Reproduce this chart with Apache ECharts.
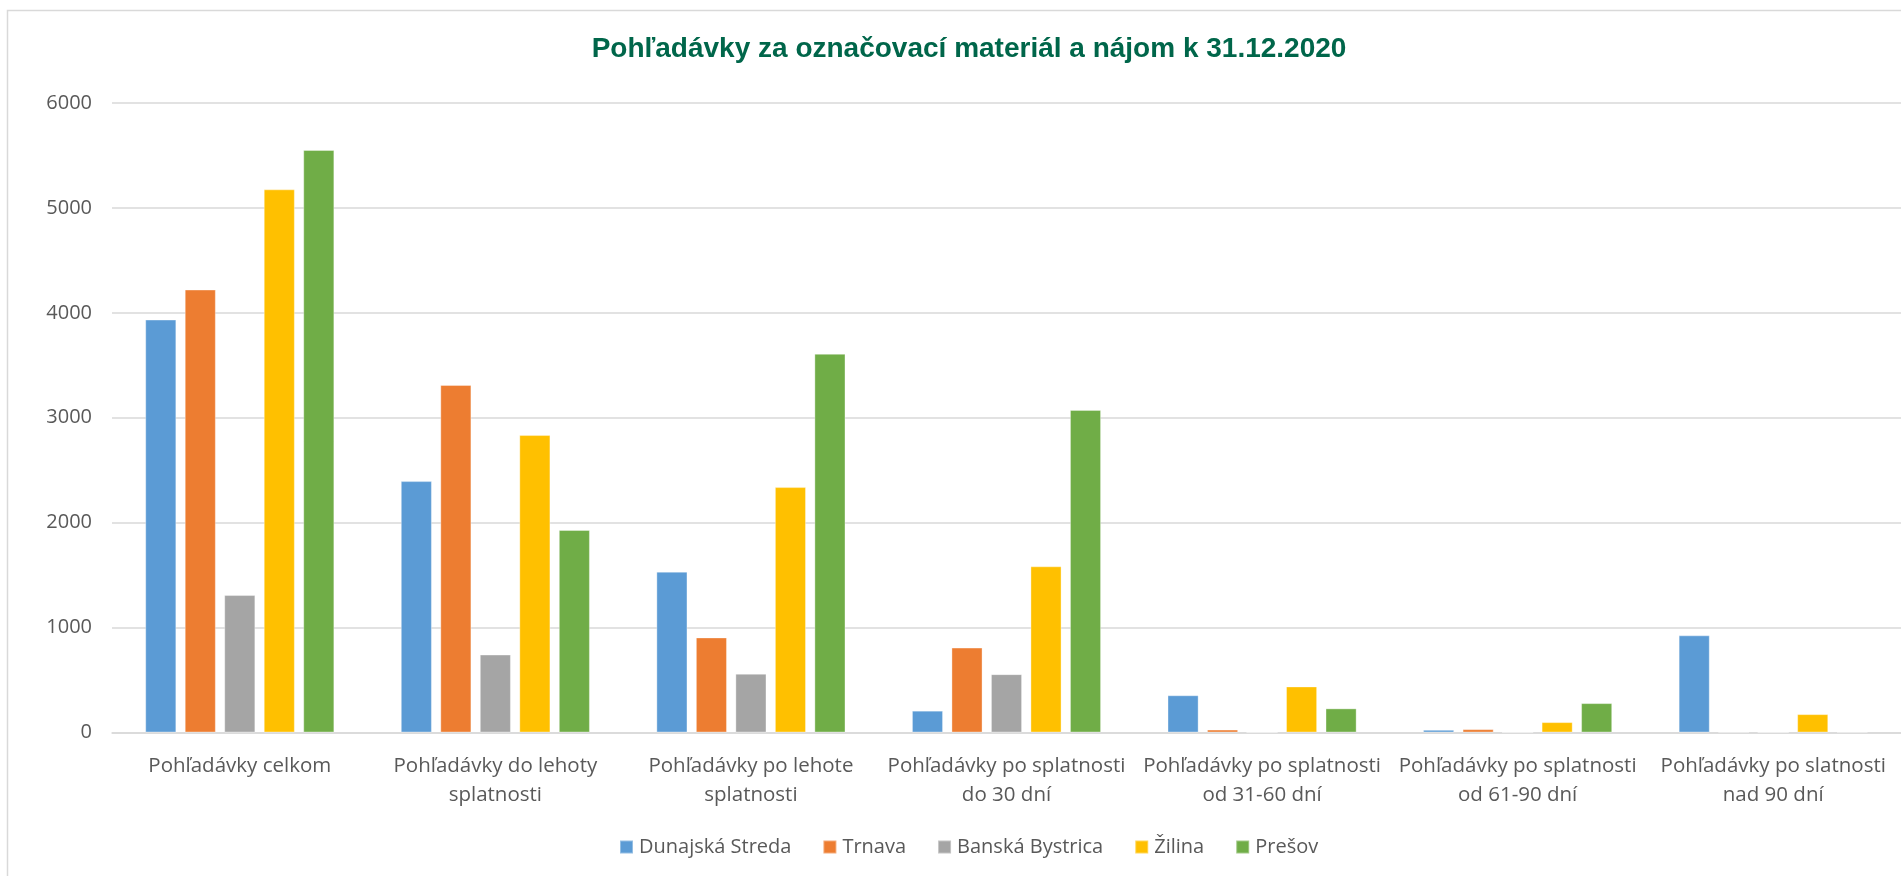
<!DOCTYPE html>
<html>
<head>
<meta charset="utf-8">
<title>Pohľadávky za označovací materiál a nájom k 31.12.2020</title>
<script src="https://cdn.jsdelivr.net/npm/echarts@6/dist/echarts.min.js"></script>
<style>
  html, body { margin: 0; padding: 0; background: #ffffff; }
  #chart { width: 1901px; height: 876px; }
</style>
</head>
<body>
<div id="chart"></div>
<script>
// Categories (receivable buckets) and regional values, in EUR
const categories = [
  'Pohľadávky celkom',
  'Pohľadávky do lehoty\nsplatnosti',
  'Pohľadávky po lehote\nsplatnosti',
  'Pohľadávky po splatnosti\ndo 30 dní',
  'Pohľadávky po splatnosti\nod 31-60 dní',
  'Pohľadávky po splatnosti\nod 61-90 dní',
  'Pohľadávky po slatnosti\nnad 90 dní'
];

const dunajskaStreda  = [3936, 2396, 1533, 208, 355, 26, 926];
const trnava          = [4222, 3312,  906, 809,  28, 32,   4];
const banskaBystrica  = [1310,  743,  560, 556,   0,  0,   0];
const zilina          = [5177, 2835, 2339, 1584, 439, 99, 175];
const presov          = [5552, 1930, 3610, 3075, 230, 280,  5];

const seriesNames = ['Dunajská Streda', 'Trnava', 'Banská Bystrica', 'Žilina', 'Prešov'];
const seriesValues = [dunajskaStreda, trnava, banskaBystrica, zilina, presov];
const seriesColors = ['#5B9BD5', '#ED7D31', '#A5A5A5', '#FFC000', '#70AD47'];

const yTicks = { min: 0, max: 6000, interval: 1000 };

const labelFont = '"Open Sans", "Noto Sans", sans-serif';
const textGray = '#595959';

const chart = echarts.init(document.getElementById('chart'), null, { renderer: 'canvas' });

chart.setOption({
  backgroundColor: '#ffffff',
  animation: false,
  color: seriesColors,
  title: {
    text: 'Pohľadávky za označovací materiál a nájom k 31.12.2020',
    left: 964,
    top: 30,
    textAlign: 'center',
    textStyle: {
      color: '#00664A',
      fontFamily: '"Liberation Sans", Arial, sans-serif',
      fontWeight: 'bold',
      fontSize: 28
    }
  },
  legend: {
    data: seriesNames,
    left: 614,
    top: 832,
    itemWidth: 13,
    itemHeight: 13,
    itemGap: 31,
    icon: 'rect',
    textStyle: {
      color: textGray,
      fontFamily: labelFont,
      fontSize: 20,
      padding: [0, 0, 0, 1]
    }
  },
  grid: {
    left: 112,
    top: 103,
    width: 1795,
    height: 629.5,
    containLabel: false
  },
  xAxis: {
    type: 'category',
    data: categories,
    axisLine: { show: true, lineStyle: { color: '#D9D9D9', width: 1.5 } },
    axisTick: { show: false },
    splitLine: { show: false },
    axisLabel: {
      interval: 0,
      margin: 19,
      color: textGray,
      fontFamily: labelFont,
      fontSize: 20.5,
      lineHeight: 29
    }
  },
  yAxis: {
    type: 'value',
    min: yTicks.min,
    max: yTicks.max,
    interval: yTicks.interval,
    axisLine: { show: false },
    axisTick: { show: false },
    splitLine: { show: true, lineStyle: { color: '#D9D9D9', width: 1.5 } },
    axisLabel: {
      margin: 20,
      color: textGray,
      fontFamily: labelFont,
      fontSize: 20,
      formatter: (v) => String(v)
    }
  },
  graphic: [{
    type: 'rect',
    silent: true,
    z: -1,
    shape: { x: 7.5, y: 10.5, width: 2000, height: 1000 },
    style: { fill: 'none', stroke: '#D9D9D9', lineWidth: 1.5 }
  }],
  series: seriesNames.map((name, i) => ({
    name: name,
    type: 'bar',
    data: seriesValues[i],
    barGap: '27%',
    barCategoryGap: '26%',
    itemStyle: {
      color: seriesColors[i],
      borderColor: 'rgba(255,255,255,0.35)',
      borderWidth: 1
    }
  }))
});
</script>
</body>
</html>
